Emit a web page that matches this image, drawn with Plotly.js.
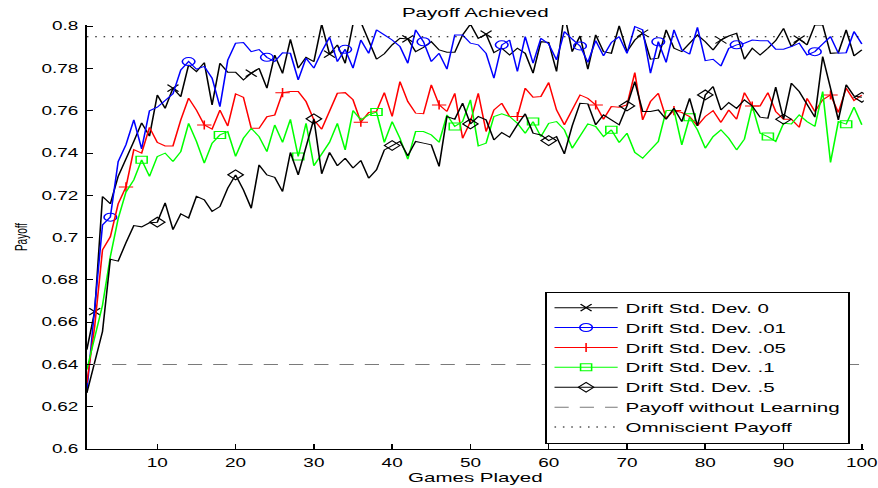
<!DOCTYPE html>
<html>
<head>
<meta charset="utf-8">
<script src="https://cdn.plot.ly/plotly-3.0.1.min.js"></script>
<style>
html,body{margin:0;padding:0;overflow:hidden;background:#fff;}
#chart{width:556px;height:488px;transform:scaleX(1.57914);transform-origin:0 0;}
</style>
</head>
<body>
<div id="chart"></div>
<script>
// ---- data ----
const games = Array.from({length: 100}, (_, i) => i + 1);

const drift0 = [0.647,0.665,0.7195,0.716,0.729,0.737,0.7455,0.7543,0.748,0.7675,
0.7612,0.7707,0.7667,0.7817,0.7786,0.7828,0.7628,0.7825,0.7782,0.7782,
0.7746,0.7778,0.7801,0.7707,0.7864,0.7777,0.7938,0.7802,0.7853,0.7833,
0.801,0.7868,0.7912,0.7825,0.801,0.802,0.7935,0.7844,0.787,0.7912,
0.7943,0.794,0.788,0.790,0.7927,0.7888,0.7877,0.7877,0.7959,0.801,
0.7943,0.7963,0.7875,0.7896,0.7864,0.7896,0.7872,0.7778,0.7927,0.7923,
0.7786,0.806,0.788,0.7954,0.7797,0.7959,0.788,0.7872,0.8002,0.788,
0.7935,0.7967,0.7844,0.7849,0.7983,0.7896,0.788,0.792,0.7959,0.7927,
0.7888,0.7935,0.7954,0.7967,0.7844,0.7896,0.7864,0.7896,0.7932,0.799,
0.7904,0.7939,0.7912,0.8006,0.8006,0.7872,0.7875,0.7983,0.786,0.7888];

const drift01 = [0.6273,0.668,0.706,0.7097,0.736,0.744,0.7557,0.742,0.760,0.7617,
0.765,0.768,0.7793,0.7833,0.7797,0.781,0.7754,0.762,0.784,0.792,
0.7923,0.788,0.789,0.7853,0.7833,0.7875,0.7872,0.7746,0.7849,0.7802,
0.788,0.7948,0.7833,0.7891,0.7802,0.7935,0.7872,0.7983,0.7959,0.7935,
0.7904,0.7825,0.7983,0.7927,0.7833,0.7872,0.7797,0.7959,0.7959,0.792,
0.7912,0.7872,0.7754,0.7912,0.7935,0.7786,0.7951,0.7825,0.7943,0.7916,
0.7841,0.7975,0.7939,0.7907,0.7829,0.7932,0.786,0.7923,0.7951,0.7872,
0.7998,0.7983,0.7778,0.7927,0.7829,0.7983,0.7888,0.7868,0.7995,0.7837,
0.7844,0.7812,0.7896,0.7912,0.792,0.7935,0.7932,0.7932,0.7891,0.7891,
0.7904,0.792,0.7864,0.788,0.7916,0.7951,0.7872,0.7875,0.7975,0.7916];

const drift05 = [0.6312,0.658,0.6942,0.7004,0.716,0.724,0.7416,0.740,0.7522,0.745,
0.7434,0.7434,0.7557,0.766,0.7603,0.7533,0.7513,0.7603,0.7528,0.768,
0.7664,0.7517,0.7517,0.7572,0.758,0.7686,0.7691,0.7691,0.7644,0.7557,
0.7513,0.7604,0.7683,0.7686,0.7652,0.7546,0.7592,0.7597,0.7686,0.7573,
0.7738,0.7644,0.7589,0.7586,0.7723,0.7628,0.7597,0.7683,0.747,0.7549,
0.7683,0.7502,0.7604,0.7636,0.7573,0.7573,0.7707,0.7664,0.7668,0.7734,
0.7604,0.7534,0.7601,0.7675,0.7659,0.7628,0.756,0.762,0.7617,0.7628,
0.7781,0.7557,0.7644,0.7683,0.7565,0.7601,0.7592,0.7573,0.7529,0.7573,
0.7601,0.7545,0.7604,0.756,0.7686,0.7623,0.7623,0.7686,0.7597,0.756,
0.756,0.7522,0.7659,0.7597,0.7652,0.7675,0.7592,0.7707,0.7649,0.7675];

const drift1 = [0.6375,0.654,0.668,0.691,0.709,0.7216,0.7273,0.7368,0.729,0.7384,
0.740,0.736,0.7407,0.7541,0.7455,0.7352,0.7447,0.7486,0.7502,0.7384,
0.747,0.7517,0.7478,0.7407,0.7533,0.7451,0.756,0.7384,0.7541,0.734,
0.7399,0.7451,0.7541,0.7415,0.7601,0.7557,0.7581,0.7594,0.7451,0.7549,
0.747,0.7371,0.7502,0.7502,0.7486,0.7451,0.7581,0.7526,0.7549,0.7652,
0.7434,0.7447,0.7573,0.7586,0.7573,0.7541,0.7494,0.7549,0.7478,0.7541,
0.7549,0.751,0.7423,0.7478,0.7538,0.7526,0.7478,0.751,0.745,0.7494,
0.7403,0.7376,0.7415,0.7455,0.7601,0.7604,0.7439,0.757,0.751,0.7423,
0.7478,0.751,0.747,0.7415,0.7466,0.7623,0.7494,0.7478,0.7455,0.7541,
0.7538,0.7581,0.7549,0.7526,0.7691,0.7356,0.7549,0.7537,0.7617,0.7534];

const drift5 = [0.6265,0.6406,0.6556,0.6898,0.6889,0.6976,0.7057,0.7051,0.707,0.7073,
0.7165,0.7038,0.7113,0.7093,0.7195,0.7179,0.7124,0.7147,0.7234,0.7297,
0.7226,0.7139,0.7344,0.7297,0.7285,0.7218,0.7403,0.7297,0.7439,0.7562,
0.7302,0.7403,0.734,0.7376,0.7329,0.7365,0.7281,0.7321,0.7415,0.7436,
0.7455,0.7387,0.7455,0.7447,0.7439,0.7337,0.7573,0.756,0.7636,0.7538,
0.7573,0.7557,0.7462,0.7497,0.7475,0.7534,0.7586,0.7494,0.7486,0.7459,
0.7478,0.7396,0.7529,0.7636,0.7633,0.7534,0.7581,0.7557,0.7534,0.7623,
0.7738,0.7597,0.7597,0.7604,0.756,0.7612,0.7549,0.7659,0.7529,0.7675,
0.7715,0.7604,0.7639,0.7612,0.7652,0.7623,0.757,0.7565,0.7712,0.756,
0.7731,0.7691,0.7628,0.757,0.7857,0.7699,0.7557,0.7723,0.767,0.7664];

const noLearningPayoff = 0.64;
const omniscientPayoff = 0.795;

const seriesNames = ['Drift Std. Dev. 0','Drift Std. Dev. .01','Drift Std. Dev. .05',
                     'Drift Std. Dev. .1','Drift Std. Dev. .5'];
const refNames = ['Payoff without Learning','Omniscient Payoff'];

const xTickVals = [10,20,30,40,50,60,70,80,90,100];
const yTickVals = [0.6,0.62,0.64,0.66,0.68,0.7,0.72,0.74,0.76,0.78,0.8];
const yTickText = ['0.6','0.62','0.64','0.66','0.68','0.7','0.72','0.74','0.76','0.78','0.8'];

// ---- traces ----
function series(y, name, color, symbol, size, offset) {
  const sel = games.map((g, i) => i).filter(i => i % 10 === offset);
  return {
    type: 'scatter', mode: 'lines+markers', x: games, y: y, name: name,
    line: {color: color, width: 1},
    marker: {symbol: symbol, size: size, color: color, line: {width: 1}},
    selectedpoints: sel,
    selected: {marker: {opacity: 1}},
    unselected: {marker: {opacity: 0}},
    hoverinfo: 'skip'
  };
}

const traces = [
  series(drift0,  seriesNames[0], '#000000', 'x-thin-open', 7, 1),
  series(drift01, seriesNames[1], '#0000ff', 'circle-open', 8, 3),
  series(drift05, seriesNames[2], '#ff0000', 'cross-thin-open', 6.5, 5),
  series(drift1,  seriesNames[3], '#00ff00', 'square-open', 7, 7),
  series(drift5,  seriesNames[4], '#000000', 'diamond-open', 7.5, 9),
  {type: 'scatter', mode: 'lines', x: games, y: games.map(() => noLearningPayoff),
   name: refNames[0], line: {color: '#7a7a7a', width: 1, dash: '9px,7px'}, hoverinfo: 'skip'},
  {type: 'scatter', mode: 'lines', x: games, y: games.map(() => omniscientPayoff),
   name: refNames[1], line: {color: '#000000', width: 1, dash: '1px,4.3px'}, hoverinfo: 'skip'}
];

const layout = {
  width: 556, height: 488,
  margin: {l: 54.6, r: 8.9, t: 25.1, b: 38.7, pad: 0},
  paper_bgcolor: '#ffffff', plot_bgcolor: '#ffffff',
  font: {family: 'Liberation Sans, Arial, Helvetica, sans-serif', size: 13, color: '#000000'},
  title: {text: 'Payoff Achieved', x: 0.5, xref: 'paper', xanchor: 'center',
          y: 1 - 12 / 488, yref: 'container', yanchor: 'middle', font: {size: 13}},
  xaxis: {
    range: [1, 100.25], tickmode: 'array', tickvals: xTickVals, ticktext: xTickVals.map(String),
    ticks: 'inside', ticklen: 5, tickwidth: 1, tickcolor: '#000000',
    showline: true, linecolor: '#000000', linewidth: 1, mirror: false,
    showgrid: false, zeroline: false, tickfont: {size: 12}, ticklabelstandoff: 3,
    ticklabeloverflow: 'allow', automargin: false,
    title: {text: 'Games Played', font: {size: 13}, standoff: 2}
  },
  yaxis: {
    range: [0.6, 0.8006], tickmode: 'array', tickvals: yTickVals, ticktext: yTickText,
    ticks: 'inside', ticklen: 4, tickwidth: 1, tickcolor: '#000000',
    showline: true, linecolor: '#000000', linewidth: 1, mirror: false,
    showgrid: false, zeroline: false, tickfont: {size: 12}, ticklabelstandoff: 2,
    ticklabeloverflow: 'allow', automargin: false,
    title: {text: 'Payoff', font: {size: 10}, standoff: 6}
  },
  legend: {
    x: 0.982, xanchor: 'right', y: 0.0125, yanchor: 'bottom',
    bgcolor: '#ffffff', bordercolor: '#000000', borderwidth: 1,
    font: {size: 13}, itemwidth: 40, tracegroupgap: 0
  },
  showlegend: true
};

Plotly.newPlot('chart', traces, layout, {displayModeBar: false, staticPlot: true});
</script>
</body>
</html>
